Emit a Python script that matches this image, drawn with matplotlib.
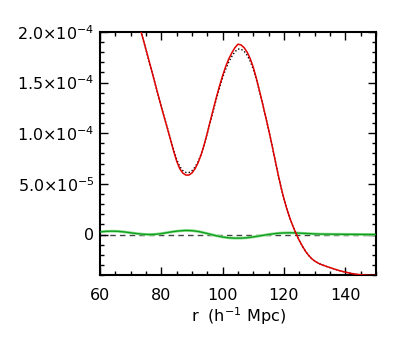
import matplotlib
matplotlib.use("Agg")
import matplotlib.pyplot as plt
from matplotlib.ticker import MultipleLocator, FixedLocator, FixedFormatter

plt.rcParams['font.family'] = ['DejaVu Sans']
plt.rcParams['mathtext.fontset'] = 'dejavusans'

# r in h^-1 Mpc
r_main = [72, 73, 74, 75, 76, 77, 78, 79, 80, 81, 82, 83, 84, 85, 86, 87, 88, 89, 90,
          91, 92, 93, 94, 95, 96, 97, 98, 99, 100, 101, 102, 103, 104, 105, 106, 107,
          108, 109, 110, 111, 112, 113, 114, 115, 116, 117, 118, 119, 120, 121, 122,
          123, 124, 125, 126, 127, 128, 129, 130, 131, 132, 134, 136, 138, 140, 142,
          144, 146, 148, 150]
# red solid (units 1e-5)
red_vals = [21.5, 20.45, 19.37, 18.27, 17.15, 16.02, 14.88, 13.74, 12.6, 11.52, 10.45,
            9.35, 8.25, 7.25, 6.5, 6.07, 5.87, 5.87, 6.08, 6.5, 7.1, 7.9, 8.9, 10.05,
            11.25, 12.45, 13.6, 14.7, 15.7, 16.6, 17.35, 17.95, 18.45, 18.8, 18.72,
            18.45, 18.0, 17.35, 16.5, 15.4, 14.2, 12.95, 11.65, 10.35, 8.95, 7.5, 6.05,
            4.7, 3.5, 2.45, 1.55, 0.75, 0.05, -0.6, -1.15, -1.65, -2.05, -2.38, -2.62,
            -2.8, -2.95, -3.17, -3.37, -3.56, -3.72, -3.85, -3.95, -4.0, -4.03, -4.05]
# black dotted (units 1e-5)
dot_vals = [21.45, 20.4, 19.32, 18.22, 17.1, 15.98, 14.85, 13.72, 12.6, 11.54, 10.5,
            9.45, 8.38, 7.42, 6.72, 6.32, 6.13, 6.12, 6.3, 6.66, 7.2, 7.95, 8.9, 10.0,
            11.15, 12.3, 13.45, 14.5, 15.5, 16.35, 17.05, 17.6, 18.05, 18.32, 18.3,
            18.1, 17.7, 17.1, 16.3, 15.3, 14.15, 12.92, 11.63, 10.33, 8.95, 7.5, 6.05,
            4.7, 3.5, 2.45, 1.55, 0.75, 0.05, -0.6, -1.15, -1.65, -2.05, -2.38, -2.62,
            -2.8, -2.95, -3.17, -3.37, -3.56, -3.72, -3.85, -3.95, -4.0, -4.03, -4.05]

r_green = [60, 62, 64, 66, 68, 70, 72, 74, 76, 78, 80, 82, 84, 86, 88, 90, 92, 94, 96,
           98, 100, 102, 104, 106, 108, 110, 112, 114, 116, 118, 120, 122, 124, 126,
           128, 130, 132, 135, 140, 145, 150]
# green solid (units 1e-6)
green_vals = [2.6, 3.1, 3.3, 3.1, 2.5, 1.7, 0.9, 0.3, 0.0, 0.2, 0.9, 1.9, 2.9, 3.6, 4.0,
              3.8, 3.0, 1.7, 0.2, -1.3, -2.5, -3.3, -3.6, -3.6, -3.2, -2.4, -1.4, -0.4,
              0.5, 1.2, 1.6, 1.7, 1.5, 1.2, 0.9, 0.6, 0.4, 0.3, 0.2, 0.1, 0.0]

ytick_vals = [0, 5e-5, 1e-4, 1.5e-4, 2e-4]
ytick_labels = ['0', r'$5.0{\times}10^{-5}$', r'$1.0{\times}10^{-4}$',
                r'$1.5{\times}10^{-4}$', r'$2.0{\times}10^{-4}$']
xtick_vals = [60, 80, 100, 120, 140]

fig = plt.figure(figsize=(4.07, 3.39), dpi=100)
ax = fig.add_axes([100/407, 1 - 275/339, 276/407, 243/339])

ax.axhline(0, color='#444444', lw=1.0, ls=(0, (4, 3)), zorder=1)
ax.plot(r_green, [v*1e-6 for v in green_vals], color='#90e090', lw=2.0, zorder=2)
ax.plot(r_green, [v*1e-6 for v in green_vals], color='#10a020', lw=1.0, zorder=3)
ax.plot(r_main, [v*1e-5 for v in dot_vals], color='black', lw=1.0, ls=(0, (1, 1.5)), zorder=3)
ax.plot(r_main, [v*1e-5 for v in red_vals], color='#e00000', lw=1.1, zorder=4)

ax.set_xlim(60, 150)
ax.set_ylim(-4e-5, 2e-4)
ax.xaxis.set_major_locator(FixedLocator(xtick_vals))
ax.xaxis.set_minor_locator(MultipleLocator(5))
ax.yaxis.set_major_locator(FixedLocator(ytick_vals))
ax.yaxis.set_major_formatter(FixedFormatter(ytick_labels))
ax.yaxis.set_minor_locator(MultipleLocator(1e-5))
ax.tick_params(which='both', direction='in', top=True, right=True, width=1.0,
               labelsize=11.5, colors='black')
ax.tick_params(which='major', length=6)
ax.tick_params(which='minor', length=3)
ax.tick_params(axis='x', which='major', pad=9)
ax.tick_params(axis='y', which='major', pad=4)
for s in ax.spines.values():
    s.set_linewidth(1.5)

ax.set_xlabel(r'r  (h$^{-1}$ Mpc)', fontsize=11.5, labelpad=2)

fig.savefig('out.png', dpi=100)
